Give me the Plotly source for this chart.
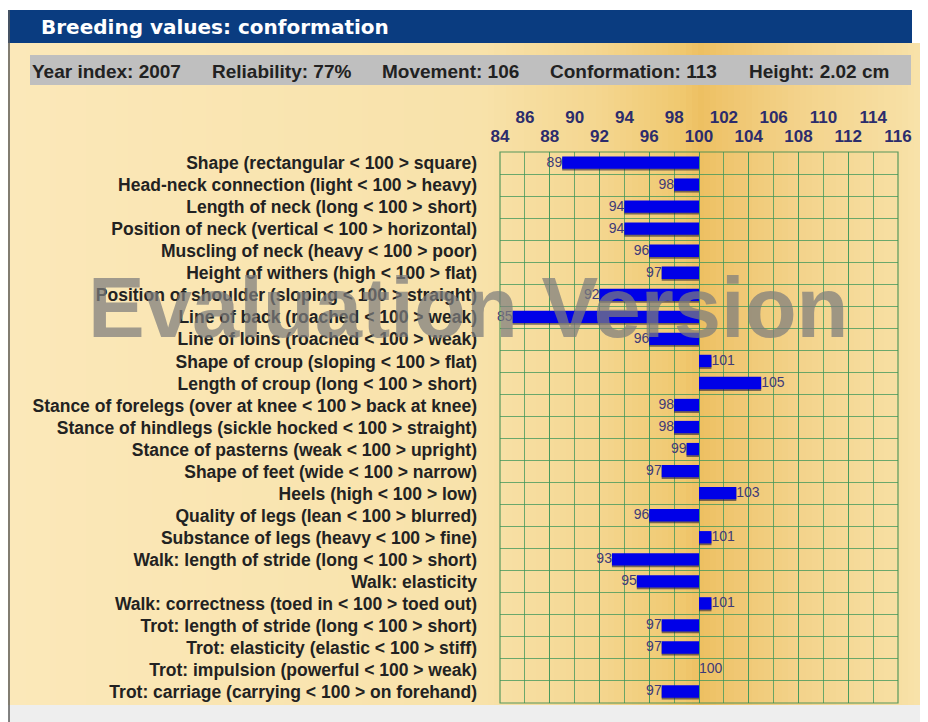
import plotly.graph_objects as go

# Data
traits = [
    "Shape (rectangular < 100 > square)",
    "Head-neck connection (light < 100 > heavy)",
    "Length of neck (long < 100 > short)",
    "Position of neck (vertical < 100 > horizontal)",
    "Muscling of neck (heavy < 100 > poor)",
    "Height of withers (high < 100 > flat)",
    "Position of shoulder (sloping < 100 > straight)",
    "Line of back (roached < 100 > weak)",
    "Line of loins (roached < 100 > weak)",
    "Shape of croup (sloping < 100 > flat)",
    "Length of croup (long < 100 > short)",
    "Stance of forelegs (over at knee < 100 > back at knee)",
    "Stance of hindlegs (sickle hocked < 100 > straight)",
    "Stance of pasterns (weak < 100 > upright)",
    "Shape of feet (wide < 100 > narrow)",
    "Heels (high < 100 > low)",
    "Quality of legs (lean < 100 > blurred)",
    "Substance of legs (heavy < 100 > fine)",
    "Walk: length of stride (long < 100 > short)",
    "Walk: elasticity",
    "Walk: correctness (toed in < 100 > toed out)",
    "Trot: length of stride (long < 100 > short)",
    "Trot: elasticity (elastic < 100 > stiff)",
    "Trot: impulsion (powerful < 100 > weak)",
    "Trot: carriage (carrying < 100 > on forehand)",
]
values = [89, 98, 94, 94, 96, 97, 92, 85, 96, 101, 105, 98, 98,
          99, 97, 103, 96, 101, 93, 95, 101, 97, 97, 100, 97]

base_value = 100
ticks_lower = list(range(84, 117, 4))
ticks_upper = list(range(86, 115, 4))

header_title = "Breeding values: conformation"
stats = [
    ("Year index: 2007", 30),
    ("Reliability: 77%", 210),
    ("Movement: 106", 380),
    ("Conformation: 113", 548),
    ("Height: 2.02 cm", 747),
]

# the page body adds an 8px margin, so the figure is drawn 8px in from the corner
OFF = 8
W, H = 928 - OFF, 722 - OFF
SANS = "Liberation Sans, Arial, sans-serif"


def px(x):
    return (x - OFF) / W


def py(y):
    return 1 - (y - OFF) / H


def hex_rgb(h):
    h = h.lstrip("#")
    return tuple(int(h[i:i + 2], 16) for i in (0, 2, 4))


def lerp_color(stops, x):
    for (x0, c0), (x1, c1) in zip(stops, stops[1:]):
        if x0 <= x <= x1:
            t = (x - x0) / (x1 - x0) if x1 > x0 else 0
            a, b = hex_rgb(c0), hex_rgb(c1)
            return "rgb(%d,%d,%d)" % tuple(round(a[i] + (b[i] - a[i]) * t) for i in range(3))
    return stops[-1][1]


grad_stops = [
    (8, "#fbe8b9"), (480, "#f8e2aa"), (600, "#f4d68f"), (680, "#f0c970"),
    (700, "#edc062"), (725, "#efc56e"), (800, "#f3d38b"), (898, "#f7dfa3"),
    (928, "#f9e3ad"),
]

shapes = []
# panel background gradient
step = 6
x = 8
while x < 928:
    x2 = min(x + step, 928)
    shapes.append(dict(type="rect", xref="paper", yref="paper",
                       x0=px(x), x1=px(x2) + 0.001, y0=py(705), y1=py(43),
                       fillcolor=lerp_color(grad_stops, (x + x2) / 2),
                       line_width=0, layer="below"))
    x = x2
# header bar
shapes.append(dict(type="rect", xref="paper", yref="paper", x0=px(8), x1=px(912),
                   y0=py(43), y1=py(10), fillcolor="#0a3c80", line_width=0, layer="below"))
# stats bar
shapes.append(dict(type="rect", xref="paper", yref="paper", x0=px(30), x1=px(911),
                   y0=py(85), y1=py(55), fillcolor="#bfbfbf", line_width=0, layer="below"))
# bottom strip
shapes.append(dict(type="rect", xref="paper", yref="paper", x0=px(9), x1=1,
                   y0=0, y1=py(705), fillcolor="#eeeeee", line_width=0, layer="below"))
# left border
shapes.append(dict(type="line", xref="paper", yref="paper", x0=px(9), x1=px(9),
                   y0=0, y1=py(10), line=dict(color="#5a5a5a", width=1.5)))
# plot frame
shapes.append(dict(type="rect", xref="x domain", yref="y domain", x0=0, x1=1, y0=0, y1=1,
                   line=dict(color="rgba(60,140,80,0.85)", width=1.2)))

fig = go.Figure()

# bar shadow
fig.add_trace(go.Bar(
    y=traits, x=[v - base_value for v in values], base=base_value, orientation="h",
    marker=dict(color="rgba(20,20,50,0.55)", line_width=0),
    width=0.56, offset=-0.22, hoverinfo="skip", showlegend=False,
))
fig.add_trace(go.Bar(
    y=traits, x=[v - base_value for v in values], base=base_value, orientation="h",
    marker=dict(color="#0000e8", line_width=0),
    width=0.56, offset=-0.3, showlegend=False,
))
fig.add_trace(go.Scatter(
    y=traits, x=values, mode="text", text=[str(v) for v in values],
    textposition=["middle left" if v < base_value else "middle right" for v in values],
    textfont=dict(family=SANS, size=14, color="#3e3a78"),
    xaxis="x2", showlegend=False, hoverinfo="skip", cliponaxis=False,
))

tick_font = dict(family=SANS, size=17, color="#2c2c6c", weight="bold")
grid_col = "rgba(60,150,90,0.75)"

annotations = [
    dict(text=header_title, x=px(39), y=py(27), xref="paper", yref="paper",
         xanchor="left", yanchor="middle", showarrow=False,
         font=dict(family="DejaVu Sans, Verdana, sans-serif", size=20, color="white",
                   weight="bold")),
]
for label, xpos in stats:
    annotations.append(dict(text=label, x=px(xpos), y=py(71), xref="paper",
                            yref="paper", xanchor="left", yanchor="middle", showarrow=False,
                            font=dict(family=SANS, size=19, color="#222222", weight="bold")))
annotations.append(dict(text="Evaluation Version", x=px(468), y=py(307), xref="paper",
                        yref="paper", xanchor="center", yanchor="middle", showarrow=False,
                        font=dict(family=SANS, size=85, color="rgba(125,125,125,0.72)",
                                  weight="bold")))

fig.update_layout(
    width=W, height=H,
    margin=dict(l=0, r=0, t=0, b=0, autoexpand=False),
    paper_bgcolor="white",
    plot_bgcolor="rgba(0,0,0,0)",
    barmode="overlay",
    shapes=shapes,
    annotations=annotations,
    xaxis=dict(
        domain=[px(500), px(898)], range=[84, 116], side="top", anchor="y",
        tickvals=ticks_lower, ticklabelstandoff=6, tickfont=tick_font,
        showgrid=True, gridcolor=grid_col, gridwidth=1, zeroline=False,
        minor=dict(dtick=2, tick0=84, showgrid=True, gridcolor=grid_col, gridwidth=1),
        ticks="", showline=False, fixedrange=True, automargin=False,
    ),
    xaxis2=dict(
        overlaying="x", range=[84, 116], side="top", anchor="y",
        tickvals=ticks_upper, ticklabelstandoff=25, tickfont=tick_font,
        showgrid=False, zeroline=False, ticks="", showline=False, automargin=False,
    ),
    yaxis=dict(
        domain=[py(703), py(152)], type="category", categoryorder="array",
        categoryarray=traits, range=[len(traits) - 0.5, -0.5], tickson="boundaries",
        tickmode="array", tickvals=traits,
        showgrid=True, gridcolor=grid_col, gridwidth=1.2, ticks="",
        ticklabelstandoff=22,
        tickfont=dict(family=SANS, size=17.5, color="#222222", weight="bold"),
        showline=False, zeroline=False, automargin=False,
    ),
    font=dict(family=SANS),
)

fig.write_html("out.html")
